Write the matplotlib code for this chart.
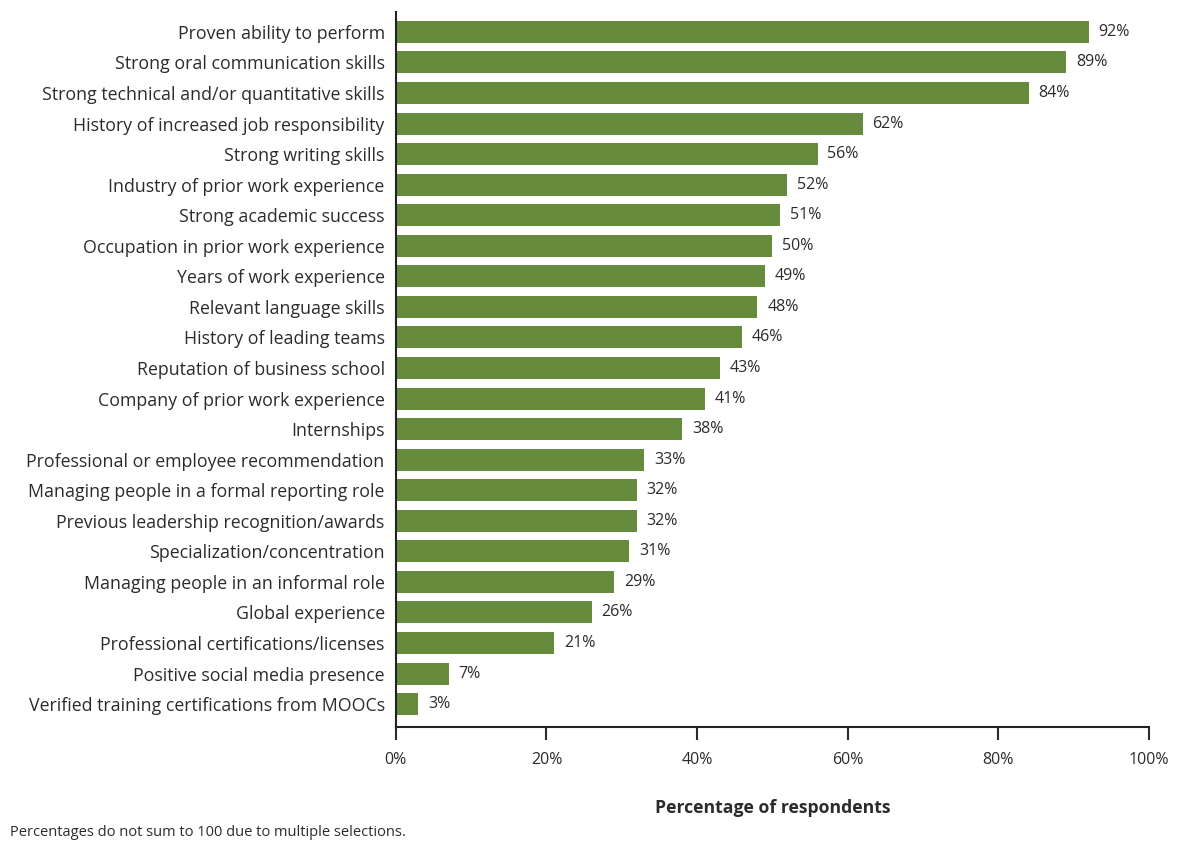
import matplotlib.pyplot as plt
import matplotlib.ticker as mticker

plt.rcParams['font.family'] = ['Open Sans', 'DejaVu Sans']

# data
attributes = [
    'Proven ability to perform',
    'Strong oral communication skills',
    'Strong technical and/or quantitative skills',
    'History of increased job responsibility',
    'Strong writing skills',
    'Industry of prior work experience',
    'Strong academic success',
    'Occupation in prior work experience',
    'Years of work experience',
    'Relevant language skills',
    'History of leading teams',
    'Reputation of business school',
    'Company of prior work experience',
    'Internships',
    'Professional or employee recommendation',
    'Managing people in a formal reporting role',
    'Previous leadership recognition/awards',
    'Specialization/concentration',
    'Managing people in an informal role',
    'Global experience',
    'Professional certifications/licenses',
    'Positive social media presence',
    'Verified training certifications from MOOCs',
]
percentages = [92, 89, 84, 62, 56, 52, 51, 50, 49, 48, 46, 43, 41, 38,
               33, 32, 32, 31, 29, 26, 21, 7, 3]

bar_color = '#668B3C'
text_color = '#2b2b2b'

fig = plt.figure(figsize=(11.78, 8.41), dpi=100)
ax = fig.add_axes([0.336, 0.1355, 0.6394, 0.8502])

y = list(range(len(attributes)))
bars = ax.barh(y, percentages, height=0.72, color=bar_color)

for yi, val in zip(y, percentages):
    ax.text(val + 1.3, yi, f'{val}%', va='center', ha='left',
            fontsize=11.5, color=text_color)

ax.set_yticks(y)
ax.set_yticklabels(attributes, fontsize=12.8, color=text_color)
ax.tick_params(axis='y', length=0, pad=8)

ax.set_xlim(0, 100)
ax.set_ylim(22.75, -0.65)
ax.set_xticks(range(0, 101, 20))
ax.xaxis.set_major_formatter(mticker.FuncFormatter(lambda v, p: f'{int(v)}%'))
ax.tick_params(axis='x', length=9, width=1.5, pad=9, labelsize=11.5,
               colors=text_color)

for side in ['top', 'right']:
    ax.spines[side].set_visible(False)
ax.spines['left'].set_linewidth(1.5)
ax.spines['bottom'].set_linewidth(1.5)
ax.spines['left'].set_color('#222222')
ax.spines['bottom'].set_color('#222222')

ax.set_xlabel('Percentage of respondents', fontsize=12.7, fontweight='bold',
              color=text_color, labelpad=22)

fig.text(10 / 1178, 1 - 833 / 841,
         'Percentages do not sum to 100 due to multiple selections.',
         fontsize=10.5, color=text_color, va='center', ha='left')

fig.savefig('out.png', dpi=100)
